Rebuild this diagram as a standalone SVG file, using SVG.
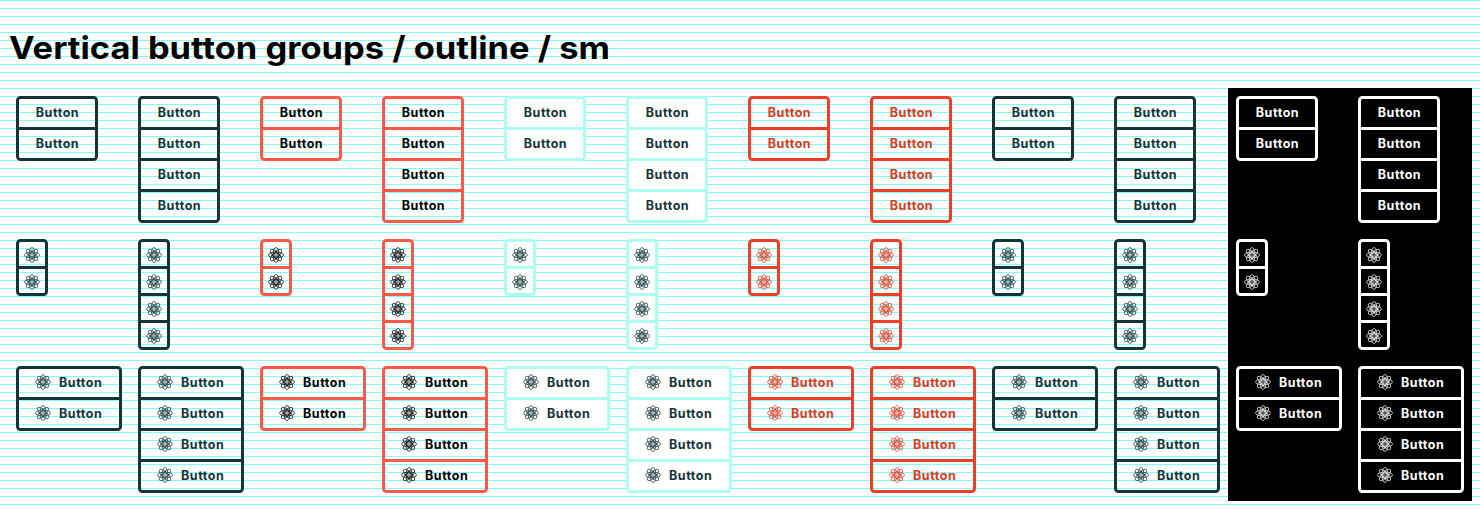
<svg xmlns="http://www.w3.org/2000/svg" width="1480" height="509" viewBox="0 0 1480 509">
<style>
text{font-family:"Inter","Liberation Sans",sans-serif;font-weight:700}
.t{font-size:31.5px;fill:#000}
.l{font-size:12.5px;letter-spacing:.55px}
.c{text-anchor:middle}
.f{fill:none;stroke-width:3}
.d{fill:none;stroke-width:3}
.dark{color:#143438}.dark .f,.dark .d{stroke:#143438}.dark text{fill:#143438}
.coral{color:#000}.coral .f,.coral .d{stroke:#fb5a48}.coral text{fill:#000}
.mint{color:#143438}.mint .f,.mint .d{stroke:#aefff2}.mint text{fill:#143438}.mint .bg{fill:#fff}
.red{color:#d93a22}.red .f,.red .d{stroke:#ee3f28}.red text{fill:#d93a22}
.inv{color:#fff}.inv .f,.inv .d{stroke:#fff}.inv text{fill:#fff}
</style>
<defs>
<pattern id="lines" width="8" height="8" patternUnits="userSpaceOnUse"><rect width="8" height="1" fill="#80fffa"/></pattern>
<g id="atom" fill="none" stroke="currentColor" stroke-width=".7">
<ellipse rx="7.5" ry="3"/><ellipse rx="7.5" ry="3" transform="rotate(45)"/><ellipse rx="7.5" ry="3" transform="rotate(90)"/><ellipse rx="7.5" ry="3" transform="rotate(135)"/>
<circle r="2.2" stroke-width="1"/><circle r=".7" fill="currentColor" stroke="none"/>
</g>
</defs>
<rect width="1480" height="509" fill="#fff"/>
<rect width="1480" height="509" fill="url(#lines)"/>
<rect x="1228" y="88" width="244" height="413" fill="#000"/>
<text id="title" class="t" x="9" y="59" textLength="601" lengthAdjust="spacingAndGlyphs">Vertical button groups / outline / sm</text>

<g id="row1">
<g id="r1c1" class="dark" transform="translate(16,96)"><rect class="f" x="1.5" y="1.5" width="79" height="62" rx="3"/><path class="d" d="M0 32.5H82"/><text class="l c" x="41.5" y="21">Button</text><text class="l c" x="41.5" y="52">Button</text></g>
<g id="r1c2" class="dark" transform="translate(138,96)"><rect class="f" x="1.5" y="1.5" width="79" height="124" rx="3"/><path class="d" d="M0 32.5H82M0 63.5H82M0 94.5H82"/><text class="l c" x="41.5" y="21">Button</text><text class="l c" x="41.5" y="52">Button</text><text class="l c" x="41.5" y="83">Button</text><text class="l c" x="41.5" y="114">Button</text></g>
<g id="r1c3" class="coral" transform="translate(260,96)"><rect class="f" x="1.5" y="1.5" width="79" height="62" rx="3"/><path class="d" d="M0 32.5H82"/><text class="l c" x="41.5" y="21">Button</text><text class="l c" x="41.5" y="52">Button</text></g>
<g id="r1c4" class="coral" transform="translate(382,96)"><rect class="f" x="1.5" y="1.5" width="79" height="124" rx="3"/><path class="d" d="M0 32.5H82M0 63.5H82M0 94.5H82"/><text class="l c" x="41.5" y="21">Button</text><text class="l c" x="41.5" y="52">Button</text><text class="l c" x="41.5" y="83">Button</text><text class="l c" x="41.5" y="114">Button</text></g>
<g id="r1c5" class="mint" transform="translate(504,96)"><rect class="f bg" x="1.5" y="1.5" width="79" height="62" rx="3"/><path class="d" d="M0 32.5H82"/><text class="l c" x="41.5" y="21">Button</text><text class="l c" x="41.5" y="52">Button</text></g>
<g id="r1c6" class="mint" transform="translate(626,96)"><rect class="f bg" x="1.5" y="1.5" width="79" height="124" rx="3"/><path class="d" d="M0 32.5H82M0 63.5H82M0 94.5H82"/><text class="l c" x="41.5" y="21">Button</text><text class="l c" x="41.5" y="52">Button</text><text class="l c" x="41.5" y="83">Button</text><text class="l c" x="41.5" y="114">Button</text></g>
<g id="r1c7" class="red" transform="translate(748,96)"><rect class="f" x="1.5" y="1.5" width="79" height="62" rx="3"/><path class="d" d="M0 32.5H82"/><text class="l c" x="41.5" y="21">Button</text><text class="l c" x="41.5" y="52">Button</text></g>
<g id="r1c8" class="red" transform="translate(870,96)"><rect class="f" x="1.5" y="1.5" width="79" height="124" rx="3"/><path class="d" d="M0 32.5H82M0 63.5H82M0 94.5H82"/><text class="l c" x="41.5" y="21">Button</text><text class="l c" x="41.5" y="52">Button</text><text class="l c" x="41.5" y="83">Button</text><text class="l c" x="41.5" y="114">Button</text></g>
<g id="r1c9" class="dark" transform="translate(992,96)"><rect class="f" x="1.5" y="1.5" width="79" height="62" rx="3"/><path class="d" d="M0 32.5H82"/><text class="l c" x="41.5" y="21">Button</text><text class="l c" x="41.5" y="52">Button</text></g>
<g id="r1c10" class="dark" transform="translate(1114,96)"><rect class="f" x="1.5" y="1.5" width="79" height="124" rx="3"/><path class="d" d="M0 32.5H82M0 63.5H82M0 94.5H82"/><text class="l c" x="41.5" y="21">Button</text><text class="l c" x="41.5" y="52">Button</text><text class="l c" x="41.5" y="83">Button</text><text class="l c" x="41.5" y="114">Button</text></g>
<g id="r1c11" class="inv" transform="translate(1236,96)"><rect class="f" x="1.5" y="1.5" width="79" height="62" rx="3"/><path class="d" d="M0 32.5H82"/><text class="l c" x="41.5" y="21">Button</text><text class="l c" x="41.5" y="52">Button</text></g>
<g id="r1c12" class="inv" transform="translate(1358,96)"><rect class="f" x="1.5" y="1.5" width="79" height="124" rx="3"/><path class="d" d="M0 32.5H82M0 63.5H82M0 94.5H82"/><text class="l c" x="41.5" y="21">Button</text><text class="l c" x="41.5" y="52">Button</text><text class="l c" x="41.5" y="83">Button</text><text class="l c" x="41.5" y="114">Button</text></g>
</g>

<g id="row2">
<g id="r2c1" class="dark" transform="translate(16,239)"><rect class="f" x="1.5" y="1.5" width="29" height="54" rx="3"/><path class="d" d="M0 28.5H32"/><use href="#atom" x="16" y="16"/><use href="#atom" x="16" y="43"/></g>
<g id="r2c2" class="dark" transform="translate(138,239)"><rect class="f" x="1.5" y="1.5" width="29" height="108" rx="3"/><path class="d" d="M0 28.5H32M0 55.5H32M0 82.5H32"/><use href="#atom" x="16" y="16"/><use href="#atom" x="16" y="43"/><use href="#atom" x="16" y="70"/><use href="#atom" x="16" y="97"/></g>
<g id="r2c3" class="coral" transform="translate(260,239)"><rect class="f" x="1.5" y="1.5" width="29" height="54" rx="3"/><path class="d" d="M0 28.5H32"/><use href="#atom" x="16" y="16"/><use href="#atom" x="16" y="43"/></g>
<g id="r2c4" class="coral" transform="translate(382,239)"><rect class="f" x="1.5" y="1.5" width="29" height="108" rx="3"/><path class="d" d="M0 28.5H32M0 55.5H32M0 82.5H32"/><use href="#atom" x="16" y="16"/><use href="#atom" x="16" y="43"/><use href="#atom" x="16" y="70"/><use href="#atom" x="16" y="97"/></g>
<g id="r2c5" class="mint" transform="translate(504,239)"><rect class="f bg" x="1.5" y="1.5" width="29" height="54" rx="3"/><path class="d" d="M0 28.5H32"/><use href="#atom" x="16" y="16"/><use href="#atom" x="16" y="43"/></g>
<g id="r2c6" class="mint" transform="translate(626,239)"><rect class="f bg" x="1.5" y="1.5" width="29" height="108" rx="3"/><path class="d" d="M0 28.5H32M0 55.5H32M0 82.5H32"/><use href="#atom" x="16" y="16"/><use href="#atom" x="16" y="43"/><use href="#atom" x="16" y="70"/><use href="#atom" x="16" y="97"/></g>
<g id="r2c7" class="red" transform="translate(748,239)"><rect class="f" x="1.5" y="1.5" width="29" height="54" rx="3"/><path class="d" d="M0 28.5H32"/><use href="#atom" x="16" y="16"/><use href="#atom" x="16" y="43"/></g>
<g id="r2c8" class="red" transform="translate(870,239)"><rect class="f" x="1.5" y="1.5" width="29" height="108" rx="3"/><path class="d" d="M0 28.5H32M0 55.5H32M0 82.5H32"/><use href="#atom" x="16" y="16"/><use href="#atom" x="16" y="43"/><use href="#atom" x="16" y="70"/><use href="#atom" x="16" y="97"/></g>
<g id="r2c9" class="dark" transform="translate(992,239)"><rect class="f" x="1.5" y="1.5" width="29" height="54" rx="3"/><path class="d" d="M0 28.5H32"/><use href="#atom" x="16" y="16"/><use href="#atom" x="16" y="43"/></g>
<g id="r2c10" class="dark" transform="translate(1114,239)"><rect class="f" x="1.5" y="1.5" width="29" height="108" rx="3"/><path class="d" d="M0 28.5H32M0 55.5H32M0 82.5H32"/><use href="#atom" x="16" y="16"/><use href="#atom" x="16" y="43"/><use href="#atom" x="16" y="70"/><use href="#atom" x="16" y="97"/></g>
<g id="r2c11" class="inv" transform="translate(1236,239)"><rect class="f" x="1.5" y="1.5" width="29" height="54" rx="3"/><path class="d" d="M0 28.5H32"/><use href="#atom" x="16" y="16"/><use href="#atom" x="16" y="43"/></g>
<g id="r2c12" class="inv" transform="translate(1358,239)"><rect class="f" x="1.5" y="1.5" width="29" height="108" rx="3"/><path class="d" d="M0 28.5H32M0 55.5H32M0 82.5H32"/><use href="#atom" x="16" y="16"/><use href="#atom" x="16" y="43"/><use href="#atom" x="16" y="70"/><use href="#atom" x="16" y="97"/></g>
</g>

<g id="row3">
<g id="r3c1" class="dark" transform="translate(16,366)"><rect class="f" x="1.5" y="1.5" width="103" height="62" rx="3"/><path class="d" d="M0 32.5H106"/><use href="#atom" x="27" y="16"/><use href="#atom" x="27" y="47"/><text class="l" x="43" y="21">Button</text><text class="l" x="43" y="52">Button</text></g>
<g id="r3c2" class="dark" transform="translate(138,366)"><rect class="f" x="1.5" y="1.5" width="103" height="124" rx="3"/><path class="d" d="M0 32.5H106M0 63.5H106M0 94.5H106"/><use href="#atom" x="27" y="16"/><use href="#atom" x="27" y="47"/><use href="#atom" x="27" y="78"/><use href="#atom" x="27" y="109"/><text class="l" x="43" y="21">Button</text><text class="l" x="43" y="52">Button</text><text class="l" x="43" y="83">Button</text><text class="l" x="43" y="114">Button</text></g>
<g id="r3c3" class="coral" transform="translate(260,366)"><rect class="f" x="1.5" y="1.5" width="103" height="62" rx="3"/><path class="d" d="M0 32.5H106"/><use href="#atom" x="27" y="16"/><use href="#atom" x="27" y="47"/><text class="l" x="43" y="21">Button</text><text class="l" x="43" y="52">Button</text></g>
<g id="r3c4" class="coral" transform="translate(382,366)"><rect class="f" x="1.5" y="1.5" width="103" height="124" rx="3"/><path class="d" d="M0 32.5H106M0 63.5H106M0 94.5H106"/><use href="#atom" x="27" y="16"/><use href="#atom" x="27" y="47"/><use href="#atom" x="27" y="78"/><use href="#atom" x="27" y="109"/><text class="l" x="43" y="21">Button</text><text class="l" x="43" y="52">Button</text><text class="l" x="43" y="83">Button</text><text class="l" x="43" y="114">Button</text></g>
<g id="r3c5" class="mint" transform="translate(504,366)"><rect class="f bg" x="1.5" y="1.5" width="103" height="62" rx="3"/><path class="d" d="M0 32.5H106"/><use href="#atom" x="27" y="16"/><use href="#atom" x="27" y="47"/><text class="l" x="43" y="21">Button</text><text class="l" x="43" y="52">Button</text></g>
<g id="r3c6" class="mint" transform="translate(626,366)"><rect class="f bg" x="1.5" y="1.5" width="103" height="124" rx="3"/><path class="d" d="M0 32.5H106M0 63.5H106M0 94.5H106"/><use href="#atom" x="27" y="16"/><use href="#atom" x="27" y="47"/><use href="#atom" x="27" y="78"/><use href="#atom" x="27" y="109"/><text class="l" x="43" y="21">Button</text><text class="l" x="43" y="52">Button</text><text class="l" x="43" y="83">Button</text><text class="l" x="43" y="114">Button</text></g>
<g id="r3c7" class="red" transform="translate(748,366)"><rect class="f" x="1.5" y="1.5" width="103" height="62" rx="3"/><path class="d" d="M0 32.5H106"/><use href="#atom" x="27" y="16"/><use href="#atom" x="27" y="47"/><text class="l" x="43" y="21">Button</text><text class="l" x="43" y="52">Button</text></g>
<g id="r3c8" class="red" transform="translate(870,366)"><rect class="f" x="1.5" y="1.5" width="103" height="124" rx="3"/><path class="d" d="M0 32.5H106M0 63.5H106M0 94.5H106"/><use href="#atom" x="27" y="16"/><use href="#atom" x="27" y="47"/><use href="#atom" x="27" y="78"/><use href="#atom" x="27" y="109"/><text class="l" x="43" y="21">Button</text><text class="l" x="43" y="52">Button</text><text class="l" x="43" y="83">Button</text><text class="l" x="43" y="114">Button</text></g>
<g id="r3c9" class="dark" transform="translate(992,366)"><rect class="f" x="1.5" y="1.5" width="103" height="62" rx="3"/><path class="d" d="M0 32.5H106"/><use href="#atom" x="27" y="16"/><use href="#atom" x="27" y="47"/><text class="l" x="43" y="21">Button</text><text class="l" x="43" y="52">Button</text></g>
<g id="r3c10" class="dark" transform="translate(1114,366)"><rect class="f" x="1.5" y="1.5" width="103" height="124" rx="3"/><path class="d" d="M0 32.5H106M0 63.5H106M0 94.5H106"/><use href="#atom" x="27" y="16"/><use href="#atom" x="27" y="47"/><use href="#atom" x="27" y="78"/><use href="#atom" x="27" y="109"/><text class="l" x="43" y="21">Button</text><text class="l" x="43" y="52">Button</text><text class="l" x="43" y="83">Button</text><text class="l" x="43" y="114">Button</text></g>
<g id="r3c11" class="inv" transform="translate(1236,366)"><rect class="f" x="1.5" y="1.5" width="103" height="62" rx="3"/><path class="d" d="M0 32.5H106"/><use href="#atom" x="27" y="16"/><use href="#atom" x="27" y="47"/><text class="l" x="43" y="21">Button</text><text class="l" x="43" y="52">Button</text></g>
<g id="r3c12" class="inv" transform="translate(1358,366)"><rect class="f" x="1.5" y="1.5" width="103" height="124" rx="3"/><path class="d" d="M0 32.5H106M0 63.5H106M0 94.5H106"/><use href="#atom" x="27" y="16"/><use href="#atom" x="27" y="47"/><use href="#atom" x="27" y="78"/><use href="#atom" x="27" y="109"/><text class="l" x="43" y="21">Button</text><text class="l" x="43" y="52">Button</text><text class="l" x="43" y="83">Button</text><text class="l" x="43" y="114">Button</text></g>
</g>
</svg>
